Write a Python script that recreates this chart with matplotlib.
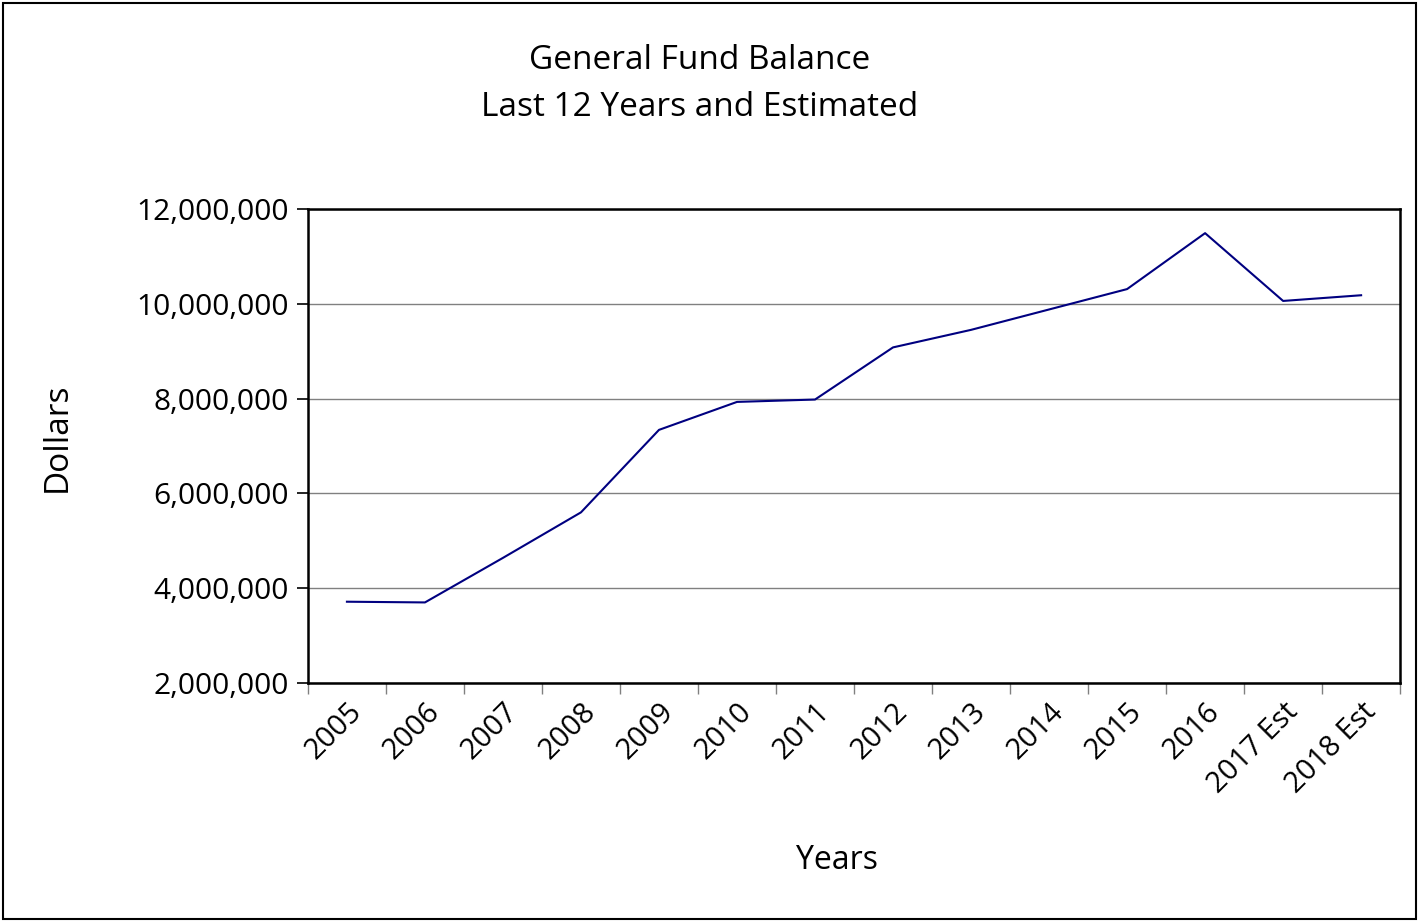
import numpy as np
import matplotlib
matplotlib.use("Agg")
from matplotlib import pyplot as plt
from matplotlib.ticker import FuncFormatter
from matplotlib.patches import Rectangle

years = ["2005", "2006", "2007", "2008", "2009", "2010", "2011",
         "2012", "2013", "2014", "2015", "2016", "2017 Est", "2018 Est"]
balance = [3715000, 3700000, 4640000, 5600000, 7340000, 7930000, 7980000,
           9080000, 9450000, 9880000, 10310000, 11490000, 10060000, 10180000]

plt.rcParams["font.family"] = ["Open Sans", "DejaVu Sans"]

fig = plt.figure(figsize=(14.19, 9.21), dpi=100)
ax = fig.add_axes([0.217, 0.2584, 0.7697, 0.5147])

x = np.arange(len(years)) + 0.5
ax.plot(x, balance, color="#000080", lw=1.5)

ax.set_xlim(0, len(years))
ax.set_ylim(2000000, 12000000)
ax.set_yticks(np.arange(2000000, 12000001, 2000000))
ax.yaxis.set_major_formatter(FuncFormatter(lambda v, p: f"{int(v):,}"))
ax.grid(axis="y", color="#808080", lw=1)
ax.set_axisbelow(True)

# category boundaries get the tick marks, labels sit in the middle
ax.set_xticks(np.arange(0, len(years) + 1))
ax.set_xticklabels([])
ax.set_xticks(x, minor=True)
ax.set_xticklabels(years, minor=True, rotation=45, ha="right",
                   rotation_mode="anchor", fontsize=21)
ax.tick_params(axis="x", which="major", length=8, color="#808080", width=1)
ax.tick_params(axis="x", which="minor", length=0, pad=10)
ax.tick_params(axis="y", length=8, width=1.2, labelsize=21.5, pad=6)

for s in ax.spines.values():
    s.set_linewidth(1.8)
    s.set_color("black")

fig.text(0.493, 0.934, "General Fund Balance", ha="center", va="center", fontsize=24)
fig.text(0.493, 0.883, "Last 12 Years and Estimated", ha="center", va="center", fontsize=24)
fig.text(0.04, 0.525, "Dollars", rotation=90, ha="center", va="center", fontsize=24)
fig.text(0.59, 0.066, "Years", ha="center", va="center", fontsize=23)

fig.patches.append(Rectangle((0.002, 0.002), 0.996, 0.995, transform=fig.transFigure,
                             fill=False, edgecolor="black", lw=1.5))

fig.savefig("out.png", dpi=100, facecolor="white")
